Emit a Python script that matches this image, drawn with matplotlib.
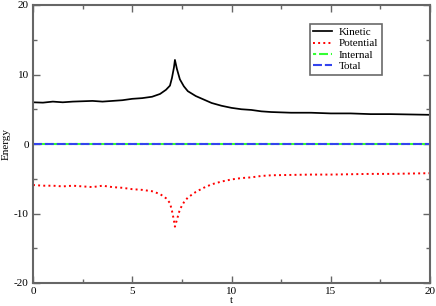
import numpy as np
import matplotlib.pyplot as plt
from matplotlib.ticker import MultipleLocator

# datos
t = [0, 0.5, 1, 1.5, 2, 2.5, 3, 3.5, 4, 4.5, 5, 5.5, 6, 6.4, 6.7, 6.9, 7.0, 7.1,
     7.15, 7.25, 7.4, 7.6, 7.8, 8.2, 8.6, 9, 9.5, 10, 10.5, 11, 11.5, 12, 13, 14,
     15, 16, 17, 18, 19, 20]
kinetic = [6.0, 5.95, 6.1, 6.0, 6.1, 6.15, 6.2, 6.1, 6.2, 6.3, 6.5, 6.6, 6.8, 7.2,
           7.8, 8.4, 9.5, 11.0, 12.1, 10.8, 9.3, 8.3, 7.6, 6.9, 6.4, 5.9, 5.5, 5.2,
           5.0, 4.9, 4.7, 4.6, 4.5, 4.5, 4.4, 4.4, 4.3, 4.3, 4.25, 4.2]
potential = [-5.9, -6.0, -6.0, -6.1, -6.0, -6.1, -6.2, -6.0, -6.2, -6.3, -6.5, -6.6,
             -6.8, -7.2, -7.8, -8.5, -9.6, -11.0, -11.9, -10.9, -9.4, -8.4, -7.7,
             -6.9, -6.3, -5.8, -5.4, -5.1, -4.9, -4.8, -4.6, -4.5, -4.45, -4.4,
             -4.4, -4.35, -4.3, -4.3, -4.25, -4.2]
internal = [0.0] * len(t)
total = [0.0] * len(t)

plt.rcParams['font.family'] = ['Liberation Serif', 'DejaVu Serif']
plt.rcParams['axes.unicode_minus'] = False

fig = plt.figure(figsize=(4.36, 3.06), dpi=100)
ax = fig.add_axes([33 / 436, 23 / 306, 397 / 436, 278 / 306])

ax.plot(t, kinetic, '-', color='black', lw=1.25, label='Kinetic')
ax.plot(t, potential, ':', color='red', lw=1.4, label='Potential')
# verde desfasado para que asome entre los huecos del azul
ax.plot(t, internal, color='#33ff33', lw=1.5, label='Internal',
        linestyle=(2.8, (4.3, 1.4)))
ax.plot(t, total, color='#3344ee', lw=1.5, label='Total',
        linestyle=(0, (4.3, 1.4)))

ax.set_xlim(0, 20)
ax.set_ylim(-20, 20)
ax.xaxis.set_major_locator(MultipleLocator(5))
ax.xaxis.set_minor_locator(MultipleLocator(2.5))
ax.yaxis.set_major_locator(MultipleLocator(10))
ax.yaxis.set_minor_locator(MultipleLocator(5))
ax.tick_params(which='both', direction='in', top=True, right=True,
               color='#666666', labelsize=8, pad=3)
ax.tick_params(which='major', length=5, width=1)
ax.tick_params(which='minor', length=3, width=1)
for s in ax.spines.values():
    s.set_color('#666666')
    s.set_linewidth(1.5)

ax.set_xlabel('t', fontsize=8, labelpad=0)
ax.set_ylabel('Energy', fontsize=8, labelpad=2)

leg = ax.legend(loc='upper left', bbox_to_anchor=(0.698, 0.932), fontsize=8,
                frameon=True, fancybox=False, borderpad=0.3, labelspacing=0.15,
                handlelength=1.7, handletextpad=0.6, borderaxespad=0)
leg.get_frame().set_edgecolor('#444444')
leg.get_frame().set_linewidth(1.2)

plt.savefig('out.png', dpi=100)
